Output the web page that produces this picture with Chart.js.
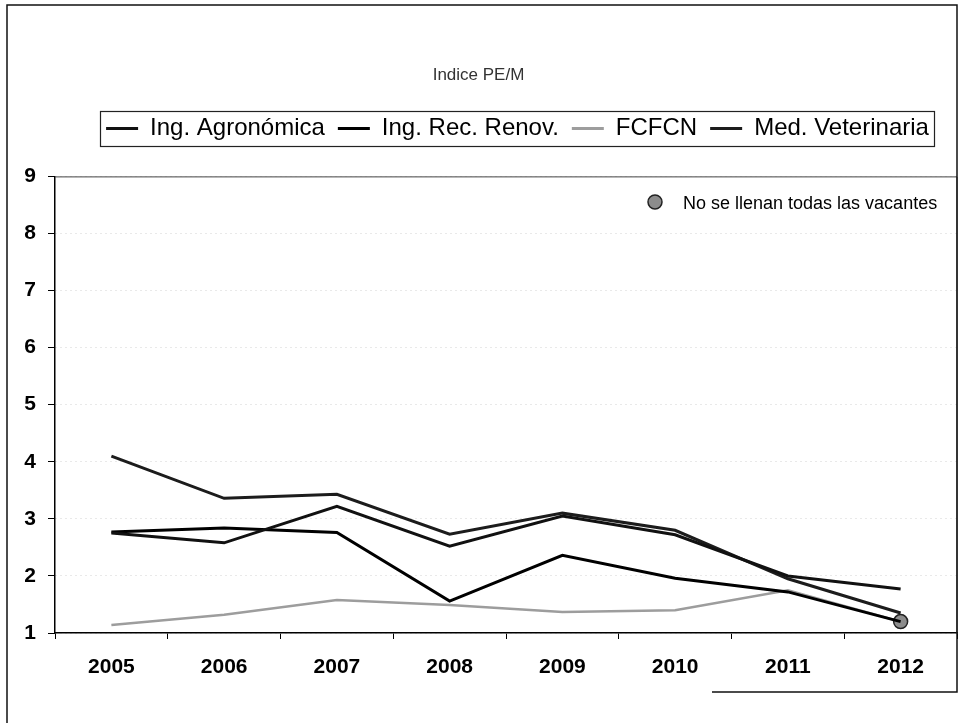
<!DOCTYPE html>
<html>
<head>
<meta charset="utf-8">
<script src="https://cdn.jsdelivr.net/npm/chart.js@4.4.1/dist/chart.umd.min.js"></script>
<style>
html,body{margin:0;padding:0;background:#fff;}
canvas{display:block;}
</style>
</head>
<body>
<canvas id="c" width="960" height="723"></canvas>
<script>
// ---- data ----
const years = ['2005', '2006', '2007', '2008', '2009', '2010', '2011', '2012'];
const ingAgronomica = [2.75, 2.58, 3.22, 2.52, 3.05, 2.72, 2.00, 1.77];
const ingRecRenov   = [2.77, 2.84, 2.76, 1.56, 2.36, 1.96, 1.72, 1.20];
const fcfcn         = [1.14, 1.32, 1.58, 1.49, 1.37, 1.40, 1.75, 1.20];
const medVeterinaria= [4.10, 3.36, 3.43, 2.73, 3.10, 2.80, 1.95, 1.35];
const seriesNames = ['Ing. Agronómica', 'Ing. Rec. Renov.', 'FCFCN', 'Med. Veterinaria'];
const vacantesFlag = [false, false, false, false, false, false, false, true]; // FCFCN: "No se llenan todas las vacantes"
const titleText = 'Indice PE/M';
const noteText = 'No se llenan todas las vacantes';

const FONT = "'Liberation Sans', Arial, Helvetica, sans-serif";
const LEGEND_SHIFT = 39;

const spacerPlugin = {
  id: 'spacer',
  beforeInit(chart) {
    const box = {
      position: 'top', weight: 100, fullSize: true, options: {},
      top: 0, left: 0, right: 0, bottom: 0, width: 0, height: 0,
      isHorizontal() { return true; },
      update(maxWidth) { this.width = maxWidth; this.height = 26; },
      draw() {}
    };
    Chart.layouts.addBox(chart, box);
  }
};

const decorPlugin = {
  id: 'decor',
  beforeDraw(chart) {
    const ctx = chart.ctx;
    ctx.save();
    ctx.fillStyle = '#fff';
    ctx.fillRect(0, 0, chart.width, chart.height);
    ctx.restore();
  },
  afterLayout(chart) {
    const lg = chart.legend;
    if (lg) { lg.left += LEGEND_SHIFT; lg.right += LEGEND_SHIFT; }
  },
  afterDraw(chart) {
    const ctx = chart.ctx;
    const a = chart.chartArea;
    ctx.save();
    // plot area top/right border
    ctx.strokeStyle = '#444';
    ctx.lineWidth = 1;
    ctx.beginPath();
    ctx.moveTo(a.left, a.top + 0.5);
    ctx.lineTo(a.right, a.top + 0.5);
    ctx.lineTo(a.right, a.bottom);
    ctx.stroke();
    // legend frame
    const hb = chart.legend.legendHitBoxes;
    if (hb && hb.length) {
      let l = Infinity, r = -Infinity, t = Infinity, b = -Infinity;
      hb.forEach(h => { l = Math.min(l, h.left); r = Math.max(r, h.left + h.width); t = Math.min(t, h.top); b = Math.max(b, h.top + h.height); });
      const cy = (t + b) / 2;
      ctx.strokeStyle = '#222';
      ctx.lineWidth = 1.2;
      ctx.strokeRect(Math.round(l - 6) + 0.5, Math.round(cy - 17.5) + 0.5, Math.round(r - l + 11), 35);
    }
    // note marker + text
    ctx.beginPath();
    ctx.arc(655, 202, 7, 0, Math.PI * 2);
    ctx.fillStyle = '#8c8c8c';
    ctx.fill();
    ctx.strokeStyle = '#222';
    ctx.lineWidth = 1.5;
    ctx.stroke();
    ctx.fillStyle = '#000';
    ctx.font = '18px ' + FONT;
    ctx.textAlign = 'left';
    ctx.textBaseline = 'middle';
    ctx.fillText(noteText, 683, 204);
    // outer frame
    ctx.strokeStyle = '#111';
    ctx.lineWidth = 1.5;
    ctx.beginPath();
    ctx.moveTo(7, 723); ctx.lineTo(7, 5); ctx.lineTo(957, 5); ctx.lineTo(957, 692); ctx.lineTo(712, 692);
    ctx.stroke();
    ctx.restore();
  }
};

const mkSet = (label, data, color, width) => ({
  label, data,
  borderColor: color, backgroundColor: color,
  borderWidth: width, pointRadius: 0, pointHoverRadius: 0, tension: 0, fill: false
});

const fcfcnSet = mkSet(seriesNames[2], fcfcn, '#9d9d9d', 2.5);
fcfcnSet.pointRadius = vacantesFlag.map(f => f ? 7 : 0);
fcfcnSet.pointBackgroundColor = '#8c8c8c';
fcfcnSet.pointBorderColor = '#222';
fcfcnSet.pointBorderWidth = 1.5;

new Chart(document.getElementById('c'), {
  type: 'line',
  data: {
    labels: years,
    datasets: [
      mkSet(seriesNames[0], ingAgronomica, '#111111', 3),
      mkSet(seriesNames[1], ingRecRenov, '#000000', 3),
      fcfcnSet,
      mkSet(seriesNames[3], medVeterinaria, '#1c1c1c', 3)
    ]
  },
  options: {
    responsive: false,
    animation: false,
    events: [],
    layout: { autoPadding: false, padding: { left: 0, right: 3, top: 0, bottom: 0 } },
    plugins: {
      tooltip: { enabled: false },
      title: {
        display: true, text: titleText, color: '#333',
        font: { family: FONT, size: 17, weight: 'normal' },
        padding: { top: 65, bottom: 18 }
      },
      legend: {
        display: true, position: 'top',
        labels: {
          font: { family: FONT, size: 24 }, color: '#000',
          boxWidth: 32, boxHeight: 3, padding: 13,
          generateLabels(chart) {
            const items = Chart.defaults.plugins.legend.labels.generateLabels(chart);
            items.forEach(it => { it.lineWidth = 0; it.fillStyle = it.strokeStyle; });
            return items;
          }
        }
      }
    },
    scales: {
      x: {
        offset: true,
        grid: { offset: true, drawOnChartArea: false, drawTicks: true, tickLength: 6, tickColor: '#000' },
        border: { display: true, color: '#000', width: 1.5 },
        ticks: { color: '#000', font: { family: FONT, size: 21, weight: 'bold' }, padding: 16, maxRotation: 0 },
        afterFit(s) { s.height = 90; s.paddingLeft = 0; s.paddingRight = 0; }
      },
      y: {
        min: 1, max: 9,
        grid: { color: '#d2d2d2', lineWidth: 1, tickColor: '#000', tickLength: 7, drawTicks: true },
        border: { display: true, color: '#000', width: 1.5, dash: [1, 4] },
        ticks: { stepSize: 1, color: '#000', font: { family: FONT, size: 21, weight: 'bold' }, padding: 12 },
        afterFit(s) { s.width = 55; }
      }
    }
  },
  plugins: [spacerPlugin, decorPlugin]
});
</script>
</body>
</html>
